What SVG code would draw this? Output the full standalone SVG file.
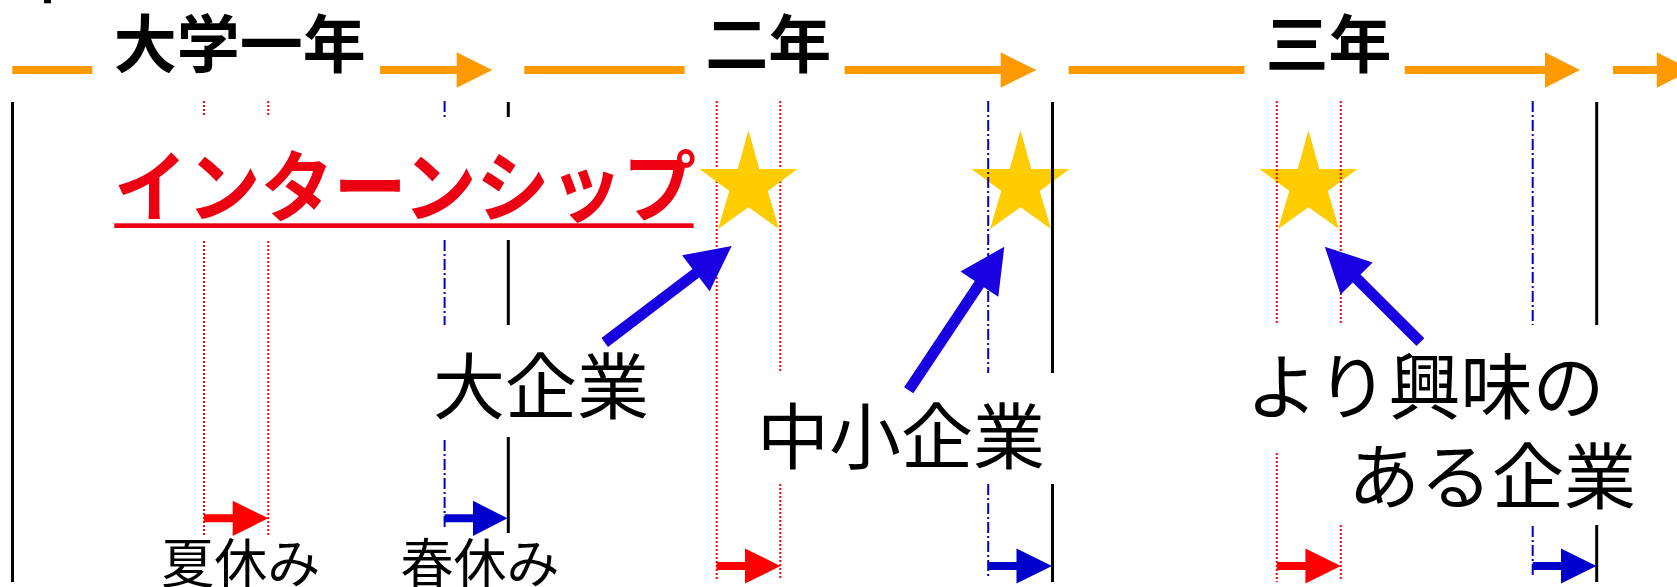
<svg xmlns="http://www.w3.org/2000/svg" xmlns:xlink="http://www.w3.org/1999/xlink" width="1677" height="587" viewBox="0 0 1677 587">
<style>
.blk{stroke:#000;stroke-width:3;fill:none}
.rd{stroke:#FF0000;stroke-width:2;stroke-dasharray:2 2;fill:none}
.bd{stroke:#0000CC;stroke-width:2;stroke-dasharray:11 3 2 3;fill:none}
.or{fill:#FF9900}
.big{fill:#1800E0}
.sr{fill:#FF0000}
.sb{fill:#0000CC}
.star{fill:#FFCC00}
.t{font-family:'Noto Sans CJK JP','Noto Sans CJK SC',sans-serif;fill:#000}
.yr{font-size:63px;font-weight:bold;text-anchor:middle}
.co{font-size:72px}
.hol{font-size:53px;text-anchor:middle}
</style>
<defs>
<polygon id="starShape" points="0,130 10.8,169 49,169 19.2,191 30.5,229 0,207.3 -30.5,229 -19.2,191 -49,169 -10.8,169"/>
</defs>
<rect x="44" y="0" width="7" height="3.3" fill="#000"/>
<g id="timeline">
<rect class="or" x="12.3" y="66" width="80" height="8"/>
<polygon class="or" points="380,66 456.7,66 456.7,52.3 492.3,70 456.7,87.7 456.7,74 380,74"/>
<rect class="or" x="524.3" y="66" width="160.3" height="8"/>
<polygon class="or" points="844.6,66 1000.7,66 1000.7,52.3 1036.4,70 1000.7,87.7 1000.7,74 844.6,74"/>
<rect class="or" x="1068.6" y="66" width="175.9" height="8"/>
<polygon class="or" points="1404.8,66 1545,66 1545,52.3 1580,70 1545,87.7 1545,74 1404.8,74"/>
<polygon class="or" points="1613,66 1656.8,66 1656.8,52.3 1692,70 1656.8,87.7 1656.8,74 1613,74"/>
</g>
<g id="year1"><text class="t yr" x="239.7" y="67">大学一年</text></g>
<g id="year2"><text class="t yr" x="768.3" y="67">二年</text></g>
<g id="year3"><text class="t yr" x="1328.5" y="67">三年</text></g>
<g id="star2"><use xlink:href="#starShape" href="#starShape" class="star" x="1020.5" y="0"/></g>
<g id="star3"><use xlink:href="#starShape" href="#starShape" class="star" x="1308.5" y="0"/></g>
<g id="guides">
<line class="blk" x1="12.5" y1="102" x2="12.5" y2="582"/>
<line class="blk" x1="508.3" y1="102" x2="508.3" y2="117"/>
<line class="blk" x1="508.3" y1="240" x2="508.3" y2="325"/>
<line class="blk" x1="508.3" y1="437" x2="508.3" y2="533"/>
<line class="blk" x1="1052.5" y1="102" x2="1052.5" y2="373"/>
<line class="blk" x1="1052.5" y1="484" x2="1052.5" y2="582"/>
<line class="blk" x1="1596.7" y1="102" x2="1596.7" y2="325"/>
<line class="blk" x1="1596.7" y1="525" x2="1596.7" y2="582"/>
<line class="rd" x1="204" y1="101" x2="204" y2="117"/>
<line class="rd" x1="204" y1="241" x2="204" y2="535"/>
<line class="rd" x1="268.3" y1="101" x2="268.3" y2="117"/>
<line class="rd" x1="268.3" y1="241" x2="268.3" y2="535"/>
<line class="rd" x1="716.7" y1="101" x2="716.7" y2="580"/>
<line class="rd" x1="780.3" y1="101" x2="780.3" y2="373"/>
<line class="rd" x1="780.3" y1="484" x2="780.3" y2="580"/>
<line class="rd" x1="1276.8" y1="101" x2="1276.8" y2="325"/>
<line class="rd" x1="1276.8" y1="453" x2="1276.8" y2="582"/>
<line class="rd" x1="1340.8" y1="101" x2="1340.8" y2="325"/>
<line class="rd" x1="1340.8" y1="525" x2="1340.8" y2="580"/>
<line class="bd" x1="444.6" y1="101" x2="444.6" y2="117"/>
<line class="bd" x1="444.6" y1="240" x2="444.6" y2="325"/>
<line class="bd" x1="444.6" y1="440" x2="444.6" y2="528"/>
<line class="bd" x1="988.2" y1="101" x2="988.2" y2="373"/>
<line class="bd" x1="988.2" y1="484" x2="988.2" y2="578"/>
<line class="bd" x1="1532.7" y1="101" x2="1532.7" y2="325"/>
<line class="bd" x1="1532.7" y1="526" x2="1532.7" y2="578"/>
</g>
<g id="star1"><use xlink:href="#starShape" href="#starShape" class="star" x="748.5" y="0"/></g>
<g id="internship">
<text class="t" x="114" y="216" font-size="78" font-weight="bold" fill="#EC0012" style="fill:#EC0012" textLength="582" lengthAdjust="spacingAndGlyphs">インターンシップ</text>
<rect x="114.3" y="223.3" width="579.3" height="4.7" fill="#EC0012"/>
</g>
<g id="large-company"><text class="t co" x="433" y="413.3">大企業</text></g>
<g id="sme"><text class="t co" x="757" y="462.7">中小企業</text></g>
<g id="interest">
<text class="t co" x="1246" y="413.3">より興味の</text>
<text class="t co" x="1348" y="503.3">ある企業</text>
</g>
<g id="summer"><text class="t hol" x="240.8" y="582.5">夏休み</text></g>
<g id="spring"><text class="t hol" x="480" y="582.5">春休み</text></g>
<g id="connectors">
<polygon class="big" points="601.4,338.1 692.5,268.9 682.1,255.2 731.7,246 709.6,291.3 699.2,277.6 608,346.9"/>
<polygon class="big" points="904.1,387.2 974.8,281.1 960.5,271.6 1004.3,246.7 998.3,296.8 983.9,287.2 913.3,393.3"/>
<polygon class="big" points="1424.3,338.3 1360.5,274.6 1372.7,262.5 1324.8,246.7 1340.6,294.6 1352.8,282.4 1416.5,346.1"/>
<polygon class="sr" points="204,514.3 232.7,514.3 232.7,500.7 268.3,518.3 232.7,535.9 232.7,522.3 204,522.3"/>
<polygon class="sb" points="444.6,514.3 473,514.3 473,500.7 507.5,518.3 473,535.9 473,522.3 444.6,522.3"/>
<polygon class="sr" points="716.5,562 745,562 745,548.4 780.4,566 745,583.6 745,570 716.5,570"/>
<polygon class="sb" points="988.2,562 1016.5,562 1016.5,548.4 1052,566 1016.5,583.6 1016.5,570 988.2,570"/>
<polygon class="sr" points="1276.8,562 1305.4,562 1305.4,548.4 1340.8,566 1305.4,583.6 1305.4,570 1276.8,570"/>
<polygon class="sb" points="1532.7,562 1561,562 1561,548.4 1596.5,566 1561,583.6 1561,570 1532.7,570"/>
</g>
</svg>
